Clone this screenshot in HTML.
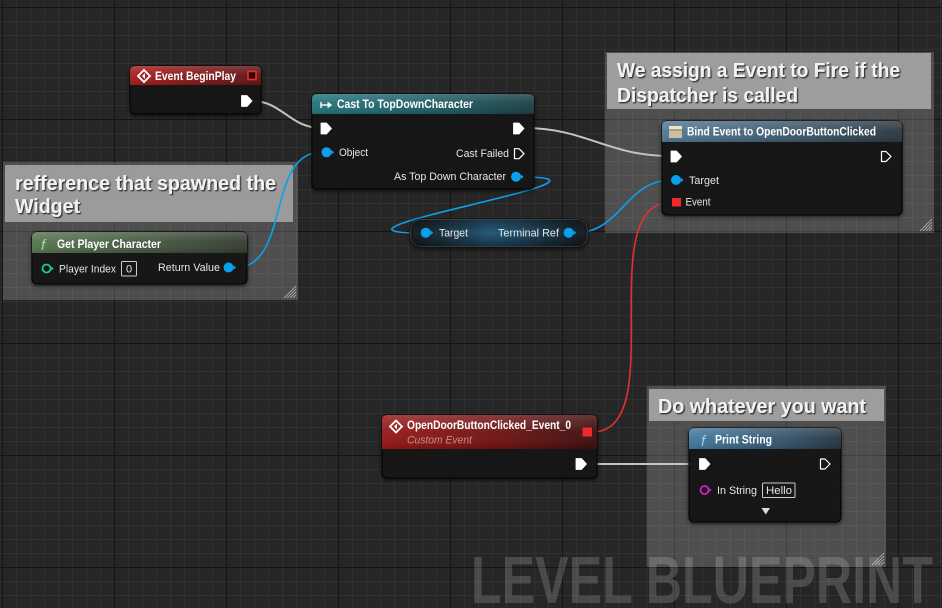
<!DOCTYPE html>
<html><head><meta charset="utf-8"><style>
html,body{margin:0;padding:0;background:#262626;overflow:hidden;}
svg{display:block;}
text{font-family:"Liberation Sans",sans-serif;}
</style></head><body>
<svg width="942" height="608" viewBox="0 0 942 608" xmlns="http://www.w3.org/2000/svg">
<defs>
<pattern id="minor" x="2" y="7" width="14" height="14" patternUnits="userSpaceOnUse">
<rect width="14" height="14" fill="#262626"/>
<rect width="14" height="1" fill="#313131"/>
<rect width="1" height="14" fill="#313131"/>
</pattern>
<pattern id="major" x="2" y="7" width="112" height="112" patternUnits="userSpaceOnUse">
<rect width="112" height="1" fill="#141414"/>
<rect width="1" height="112" fill="#141414"/>
</pattern>
<linearGradient id="gRed" x1="0" x2="1" y1="0" y2="0"><stop offset="0" stop-color="#a81e1e"/><stop offset="0.6" stop-color="#7a1616"/><stop offset="1" stop-color="#5a1414"/></linearGradient>
<linearGradient id="gRed2" x1="0" x2="1" y1="0" y2="0"><stop offset="0" stop-color="#961818"/><stop offset="0.6" stop-color="#6a1212"/><stop offset="1" stop-color="#3c0e0e"/></linearGradient>
<linearGradient id="gTeal" x1="0" x2="1" y1="0" y2="0"><stop offset="0" stop-color="#23747c"/><stop offset="0.6" stop-color="#1d5a60"/><stop offset="1" stop-color="#1b3e44"/></linearGradient>
<linearGradient id="gGreen" x1="0" x2="1" y1="0" y2="0"><stop offset="0" stop-color="#567450"/><stop offset="0.6" stop-color="#42543e"/><stop offset="1" stop-color="#333b31"/></linearGradient>
<linearGradient id="gBind" x1="0" x2="1" y1="0" y2="0"><stop offset="0" stop-color="#527a96"/><stop offset="0.6" stop-color="#3b5566"/><stop offset="1" stop-color="#2a3640"/></linearGradient>
<linearGradient id="gPrint" x1="0" x2="1" y1="0" y2="0"><stop offset="0" stop-color="#4479a0"/><stop offset="0.6" stop-color="#34546c"/><stop offset="1" stop-color="#253440"/></linearGradient>
<linearGradient id="gloss" x1="0" x2="0" y1="0" y2="1"><stop offset="0" stop-color="#fff" stop-opacity="0.18"/><stop offset="0.5" stop-color="#fff" stop-opacity="0.04"/><stop offset="1" stop-color="#000" stop-opacity="0.1"/></linearGradient>
<linearGradient id="gTerm" x1="0" x2="1" y1="0" y2="0"><stop offset="0" stop-color="#1a1d20"/><stop offset="0.45" stop-color="#265a7a"/><stop offset="0.6" stop-color="#224e6a"/><stop offset="1" stop-color="#1a1d20"/></linearGradient>
<linearGradient id="gTermV" x1="0" x2="0" y1="0" y2="1"><stop offset="0" stop-color="#000" stop-opacity="0.35"/><stop offset="0.5" stop-color="#000" stop-opacity="0"/><stop offset="1" stop-color="#000" stop-opacity="0.45"/></linearGradient>
<filter id="sh" x="-10%" y="-10%" width="120%" height="130%"><feDropShadow dx="0" dy="1.5" stdDeviation="2" flood-color="#000" flood-opacity="0.7"/></filter>
<filter id="tsh" x="-5%" y="-20%" width="110%" height="140%"><feDropShadow dx="1.2" dy="1.2" stdDeviation="0.6" flood-color="#000" flood-opacity="0.75"/></filter>
</defs>

<!-- grid -->
<rect width="942" height="608" fill="url(#minor)"/>
<rect width="942" height="608" fill="url(#major)"/>

<!-- comments -->
<g>
<rect x="3" y="162" width="295" height="138" fill="#fff" fill-opacity="0.19"/>
<rect x="5" y="165" width="288" height="57" fill="#9b9b9b"/>
<g stroke="#bbb" stroke-width="0.8"><line x1="284" y1="298" x2="296" y2="286"/><line x1="287" y1="298" x2="296" y2="289"/><line x1="290" y1="298" x2="296" y2="292"/><line x1="293" y1="298" x2="296" y2="295"/></g>
<g filter="url(#tsh)" fill="#f2f2f2" font-weight="bold" font-size="20">
<text x="15" y="190" textLength="261" lengthAdjust="spacingAndGlyphs">refference that spawned the</text>
<text x="15" y="213" textLength="65" lengthAdjust="spacingAndGlyphs">Widget</text>
</g>

<rect x="605" y="52" width="329" height="181" fill="#fff" fill-opacity="0.19"/>
<rect x="607" y="53" width="324" height="56" fill="#9d9d9d"/>
<g stroke="#bbb" stroke-width="0.8"><line x1="920" y1="231" x2="932" y2="219"/><line x1="923" y1="231" x2="932" y2="222"/><line x1="926" y1="231" x2="932" y2="225"/><line x1="929" y1="231" x2="932" y2="228"/></g>
<g filter="url(#tsh)" fill="#f2f2f2" font-weight="bold" font-size="20">
<text x="617" y="77" textLength="283" lengthAdjust="spacingAndGlyphs">We assign a Event to Fire if the</text>
<text x="617" y="102" textLength="181" lengthAdjust="spacingAndGlyphs">Dispatcher is called</text>
</g>

<rect x="647" y="386" width="239" height="181" fill="#fff" fill-opacity="0.19"/>
<rect x="649" y="389" width="235" height="32" fill="#9d9d9d"/>
<g stroke="#bbb" stroke-width="0.8"><line x1="872" y1="565" x2="884" y2="553"/><line x1="875" y1="565" x2="884" y2="556"/><line x1="878" y1="565" x2="884" y2="559"/><line x1="881" y1="565" x2="884" y2="562"/></g>
<g filter="url(#tsh)" fill="#f2f2f2" font-weight="bold" font-size="20">
<text x="658" y="413" textLength="208" lengthAdjust="spacingAndGlyphs">Do whatever you want</text>
</g>
</g>

<!-- wires -->
<g fill="none" stroke-linecap="round">
<path d="M252,101 C282,101 290,128 321,128" stroke="#c4c4c4" stroke-width="2"/>
<path d="M525,128 C585,128 608,156 670,156" stroke="#c4c4c4" stroke-width="2"/>
<path d="M587,464 L700,464" stroke="#c4c4c4" stroke-width="2"/>
<path d="M234,268 C292,268 265,152 322,152" stroke="#0aa0ee" stroke-width="1.6"/>
<path d="M521,177 C651,177 290,233 421,233" stroke="#0aa0ee" stroke-width="1.6"/>
<path d="M574,233 C622,233 625,180 672,180" stroke="#0aa0ee" stroke-width="1.6"/>
<path d="M592,432 C672,432 590,202 672,202" stroke="#e53030" stroke-width="1.6"/>
</g>

<!-- Event BeginPlay -->
<g filter="url(#sh)">
<rect x="130" y="66" width="131" height="48" rx="5" fill="#151616" fill-opacity="0.95" stroke="#050505" stroke-width="1"/>
</g>
<path d="M130,85 V71 Q130,66 135,66 H256 Q261,66 261,71 V85 Z" fill="url(#gRed)"/>
<path d="M130,85 V71 Q130,66 135,66 H256 Q261,66 261,71 V85 Z" fill="url(#gloss)"/>
<path d="M144,70 L150,76 L144,82 L138,76 Z" fill="none" stroke="#fff" stroke-width="1.8"/>
<path d="M142,76 L145,73 L145,79 Z" fill="#fff"/>
<text x="155" y="80" fill="#fff" font-weight="bold" font-size="11.5" textLength="81" lengthAdjust="spacingAndGlyphs">Event BeginPlay</text>
<rect x="248" y="71.5" width="8" height="8" fill="#2a0505" stroke="#ee2b2b" stroke-width="1.6"/>
<path d="M241.5,95.5 h5.5 l5,5.5 l-5,5.5 h-5.5 z" fill="#fff" stroke="#fff" stroke-width="0.8" stroke-linejoin="round"/>

<!-- Cast To TopDownCharacter -->
<g filter="url(#sh)">
<rect x="312" y="94" width="222" height="95" rx="5" fill="#151616" fill-opacity="0.95" stroke="#050505" stroke-width="1"/>
</g>
<path d="M312,114 V99 Q312,94 317,94 H529 Q534,94 534,99 V114 Z" fill="url(#gTeal)"/>
<path d="M312,114 V99 Q312,94 317,94 H529 Q534,94 534,99 V114 Z" fill="url(#gloss)"/>
<g stroke="#fff" stroke-width="1.4" fill="#fff">
<line x1="321" y1="102" x2="321" y2="108"/>
<line x1="321" y1="105" x2="329" y2="105"/>
<path d="M328,102.5 L331.5,105 L328,107.5 Z" stroke-width="0.8"/>
</g>
<text x="337" y="108" fill="#fff" font-weight="bold" font-size="11.5" textLength="136" lengthAdjust="spacingAndGlyphs">Cast To TopDownCharacter</text>
<path d="M321,123 h5.5 l5,5.5 l-5,5.5 h-5.5 z" fill="#fff" stroke="#fff" stroke-width="0.8" stroke-linejoin="round"/>
<path d="M513.5,123 h5.5 l5,5.5 l-5,5.5 h-5.5 z" fill="#fff" stroke="#fff" stroke-width="0.8" stroke-linejoin="round"/>
<circle cx="326.5" cy="152.3" r="5" fill="#0aa0ee"/><path d="M331.5,150 L334,152.3 L331.5,154.6 Z" fill="#0aa0ee"/>
<text x="339" y="156" fill="#e6e6e6" font-size="11" textLength="29" lengthAdjust="spacingAndGlyphs">Object</text>
<text x="456" y="157" fill="#e6e6e6" font-size="11" textLength="53" lengthAdjust="spacingAndGlyphs">Cast Failed</text>
<path d="M514.5,148.7 h4.5 l5,5 l-5,5 h-4.5 z" fill="none" stroke="#fff" stroke-width="1.2" stroke-linejoin="round"/>
<text x="394" y="180" fill="#e6e6e6" font-size="11" textLength="112" lengthAdjust="spacingAndGlyphs">As Top Down Character</text>
<circle cx="516" cy="176.7" r="5" fill="#0aa0ee"/><path d="M521,174.4 L523.5,176.7 L521,179 Z" fill="#0aa0ee"/>

<!-- Get Player Character -->
<g filter="url(#sh)">
<rect x="32" y="232" width="215" height="52" rx="5" fill="#151616" fill-opacity="0.95" stroke="#050505" stroke-width="1"/>
</g>
<path d="M32,253 V237 Q32,232 37,232 H242 Q247,232 247,237 V253 Z" fill="url(#gGreen)"/>
<path d="M32,253 V237 Q32,232 37,232 H242 Q247,232 247,237 V253 Z" fill="url(#gloss)"/>
<text x="41" y="250" fill="#9fe08f" font-style="italic" font-family="Liberation Serif, serif" font-size="15">f</text>
<text x="57" y="248" fill="#fff" font-weight="bold" font-size="11.5" textLength="104" lengthAdjust="spacingAndGlyphs">Get Player Character</text>
<circle cx="46.5" cy="268.5" r="4" fill="none" stroke="#1fc99c" stroke-width="1.8"/><path d="M51.5,266.3 L53.6,268.5 L51.5,270.7 Z" fill="#1fc99c"/>
<text x="59" y="272.5" fill="#e6e6e6" font-size="11" textLength="57" lengthAdjust="spacingAndGlyphs">Player Index</text>
<rect x="121.5" y="261.5" width="15" height="14.5" rx="1" fill="none" stroke="#ccc" stroke-width="1"/>
<text x="126" y="272.5" fill="#e6e6e6" font-size="11">0</text>
<text x="158" y="271" fill="#e6e6e6" font-size="11" textLength="62" lengthAdjust="spacingAndGlyphs">Return Value</text>
<circle cx="228.5" cy="267.5" r="5" fill="#0aa0ee"/><path d="M233.5,265.2 L236,267.5 L233.5,269.8 Z" fill="#0aa0ee"/>

<!-- Target / Terminal Ref -->
<g filter="url(#sh)">
<rect x="410" y="219" width="178" height="28" rx="11" fill="url(#gTerm)" stroke="#0c0c0c" stroke-width="1"/>
</g>
<rect x="410" y="219" width="178" height="28" rx="11" fill="url(#gTermV)"/>
<rect x="410.5" y="219.5" width="177" height="27" rx="10.5" fill="none" stroke="#555" stroke-opacity="0.6" stroke-width="1"/>
<circle cx="425.7" cy="232.7" r="5" fill="#0aa0ee"/><path d="M430.7,230.4 L433.2,232.7 L430.7,235 Z" fill="#0aa0ee"/>
<text x="439" y="236.7" fill="#e6e6e6" font-size="11" textLength="29" lengthAdjust="spacingAndGlyphs">Target</text>
<text x="498" y="236.7" fill="#e6e6e6" font-size="11" textLength="61" lengthAdjust="spacingAndGlyphs">Terminal Ref</text>
<circle cx="568.7" cy="232.7" r="5" fill="#0aa0ee"/><path d="M573.7,230.4 L576.2,232.7 L573.7,235 Z" fill="#0aa0ee"/>

<!-- Bind Event -->
<g filter="url(#sh)">
<rect x="662" y="121" width="240" height="94" rx="5" fill="#151616" fill-opacity="0.95" stroke="#050505" stroke-width="1"/>
</g>
<path d="M662,142 V126 Q662,121 667,121 H897 Q902,121 902,126 V142 Z" fill="url(#gBind)"/>
<path d="M662,142 V126 Q662,121 667,121 H897 Q902,121 902,126 V142 Z" fill="url(#gloss)"/>
<rect x="669" y="126" width="13" height="12" fill="#c8c0a0"/>
<rect x="669" y="126" width="13" height="3" fill="#ece6cc"/>
<line x1="669" y1="130" x2="682" y2="130" stroke="#7a7260" stroke-width="0.8"/>
<text x="687" y="135.7" fill="#fff" font-weight="bold" font-size="11.5" textLength="189" lengthAdjust="spacingAndGlyphs">Bind Event to OpenDoorButtonClicked</text>
<path d="M671,151 h5.5 l5,5.5 l-5,5.5 h-5.5 z" fill="#fff" stroke="#fff" stroke-width="0.8" stroke-linejoin="round"/>
<path d="M881.5,151.5 h4.5 l5,5 l-5,5 h-4.5 z" fill="none" stroke="#fff" stroke-width="1.2" stroke-linejoin="round"/>
<circle cx="676" cy="180" r="5" fill="#0aa0ee"/><path d="M681,177.7 L683.5,180 L681,182.3 Z" fill="#0aa0ee"/>
<text x="689" y="184" fill="#e6e6e6" font-size="11" textLength="30" lengthAdjust="spacingAndGlyphs">Target</text>
<rect x="672" y="198" width="9" height="8.5" fill="#ee2b2b"/>
<text x="685.5" y="205.5" fill="#e6e6e6" font-size="11" textLength="25" lengthAdjust="spacingAndGlyphs">Event</text>

<!-- Custom Event -->
<g filter="url(#sh)">
<rect x="382" y="415" width="215" height="63" rx="5" fill="#151616" fill-opacity="0.95" stroke="#050505" stroke-width="1"/>
</g>
<path d="M382,449 V420 Q382,415 387,415 H592 Q597,415 597,420 V449 Z" fill="url(#gRed2)"/>
<path d="M382,449 V420 Q382,415 387,415 H592 Q597,415 597,420 V449 Z" fill="url(#gloss)"/>
<path d="M396,420.5 L402,426.5 L396,432.5 L390,426.5 Z" fill="none" stroke="#fff" stroke-width="1.8"/>
<path d="M394,426.5 L397,423.5 L397,429.5 Z" fill="#fff"/>
<text x="407" y="429" fill="#fff" font-weight="bold" font-size="11.5" textLength="164" lengthAdjust="spacingAndGlyphs">OpenDoorButtonClicked_Event_0</text>
<text x="407" y="443.7" fill="#c88f7e" font-style="italic" font-size="11" textLength="65" lengthAdjust="spacingAndGlyphs">Custom Event</text>
<rect x="582.5" y="427.5" width="9.5" height="9" fill="#ee2b2b"/>
<path d="M576,458.5 h5.5 l5,5.5 l-5,5.5 h-5.5 z" fill="#fff" stroke="#fff" stroke-width="0.8" stroke-linejoin="round"/>

<!-- Print String -->
<g filter="url(#sh)">
<rect x="689" y="428" width="152" height="94" rx="5" fill="#151616" fill-opacity="0.95" stroke="#050505" stroke-width="1"/>
</g>
<path d="M689,449 V433 Q689,428 694,428 H836 Q841,428 841,433 V449 Z" fill="url(#gPrint)"/>
<path d="M689,449 V433 Q689,428 694,428 H836 Q841,428 841,433 V449 Z" fill="url(#gloss)"/>
<text x="701" y="446" fill="#8fd0ff" font-style="italic" font-family="Liberation Serif, serif" font-size="15">f</text>
<text x="715" y="443.5" fill="#fff" font-weight="bold" font-size="11.5" textLength="57" lengthAdjust="spacingAndGlyphs">Print String</text>
<path d="M699.5,458.5 h5.5 l5,5.5 l-5,5.5 h-5.5 z" fill="#fff" stroke="#fff" stroke-width="0.8" stroke-linejoin="round"/>
<path d="M820.5,459 h4.5 l5,5 l-5,5 h-4.5 z" fill="none" stroke="#fff" stroke-width="1.2" stroke-linejoin="round"/>
<circle cx="704.5" cy="490" r="4" fill="none" stroke="#d61ec8" stroke-width="1.8"/><path d="M709.5,487.8 L711.6,490 L709.5,492.2 Z" fill="#d61ec8"/>
<text x="717" y="494" fill="#e6e6e6" font-size="11" textLength="40" lengthAdjust="spacingAndGlyphs">In String</text>
<rect x="762.5" y="483" width="32.5" height="14.5" rx="1" fill="none" stroke="#ccc" stroke-width="1"/>
<text x="766" y="494" fill="#e6e6e6" font-size="11" textLength="26" lengthAdjust="spacingAndGlyphs">Hello</text>
<path d="M761.5,508 L770,508 L765.75,514.5 Z" fill="#ddd"/>

<!-- watermark -->
<text x="471" y="603" fill="#fff" fill-opacity="0.17" font-weight="bold" font-size="67" textLength="462" lengthAdjust="spacingAndGlyphs">LEVEL BLUEPRINT</text>
</svg>
</body></html>
